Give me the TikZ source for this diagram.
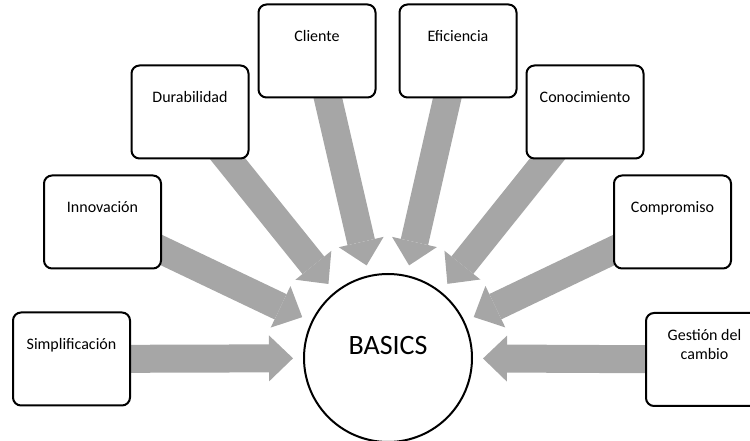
\documentclass[tikz,border=0pt]{standalone}
\usepackage{fontspec}
\setmainfont{Carlito}
\usetikzlibrary{arrows.meta,backgrounds,calc}
\definecolor{arrowgrey}{HTML}{A6A6A6}
\begin{document}
\begin{tikzpicture}[x=0.75pt,y=-0.75pt,
  box/.style={draw,line width=1.5pt,rounded corners=6pt,minimum width=87.75pt,minimum height=69.75pt,inner sep=0pt,fill=white},
  lbl/.style={font=\fontsize{12}{14.5}\selectfont,anchor=base,inner sep=0pt,align=center},
  blockarrow/.style={draw=arrowgrey,line width=21pt,-{Triangle[width=34.5pt,length=18pt,line width=0pt]}}]
\useasboundingbox (0,0) rectangle (750,441);
\node[draw,circle,line width=1.5pt,minimum size=126pt,inner sep=0pt,fill=white] (basics) at (388,358) {};
\node[font=\fontsize{21}{25}\selectfont,anchor=base,inner sep=0pt] (basicsT) at (388,355) {BASICS};
\node[box] (simp) at (71.5,359) {};
\node[box] (inno) at (102.5,222) {};
\node[box] (dura) at (190,112) {};
\node[box] (clie) at (317,51) {};
\node[box] (efic) at (458,51) {};
\node[box] (cono) at (585,112) {};
\node[box] (comp) at (672.5,222) {};
\node[box] (gest) at (704.5,359.5) {};
\node[lbl] (simpT) at ([yshift=-28.5pt]simp.north) {Simplificación};
\node[lbl] (innoT) at ([yshift=-28.5pt]inno.north) {Innovación};
\node[lbl] (duraT) at ([yshift=-28.5pt]dura.north) {Durabilidad};
\node[lbl] (clieT) at ([yshift=-28.5pt]clie.north) {Cliente};
\node[lbl] (eficT) at ([yshift=-28.5pt]efic.north) {Eficiencia};
\node[lbl] (conoT) at ([yshift=-28.5pt]cono.north) {Conocimiento};
\node[lbl] (compT) at ([yshift=-28.5pt]comp.north) {Compromiso};
\node[lbl] (gestT) at ([yshift=-36pt]gest.north) {Gestión del\\cambio};
\begin{scope}[on background layer]
\foreach \n in {simp,inno,dura,clie,efic,cono,comp,gest}
  \draw[blockarrow] (\n.center) -- ($(basics.center)!71.25pt!(\n.center)$);
\end{scope}
\end{tikzpicture}
\end{document}
